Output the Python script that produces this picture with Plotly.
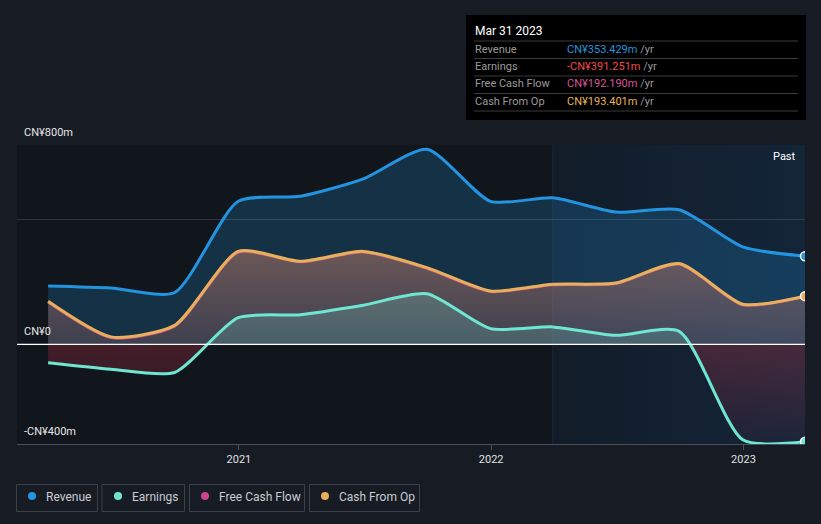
import plotly.graph_objects as go

# ---------------- data ----------------
dates = ["2020-03-31", "2020-06-30", "2020-09-30", "2020-12-31", "2021-03-31",
         "2021-06-30", "2021-09-30", "2021-12-31", "2022-03-31", "2022-06-30",
         "2022-09-30", "2022-12-31", "2023-03-31"]
revenue = [234, 226, 208, 574, 594, 664, 783, 574, 588, 531, 540, 391, 353.429]
earnings = [-74, -100, -113, 107, 119, 157, 203, 63, 70, 36, 52, -383, -391.251]
free_cash_flow = [170, 27, 73, 370, 331, 371, 305, 212, 239, 244, 322, 159, 192.190]
cash_from_op = [173, 30, 76, 373, 333, 373, 308, 214, 241, 246, 324, 161, 193.401]

year_ticks = ["2021-01-01", "2022-01-01", "2023-01-01"]
year_labels = ["2021", "2022", "2023"]
y_label_vals = [800, 0, -400]
y_label_text = ["CN¥800m", "CN¥0", "-CN¥400m"]
grid_vals = [500, 800]

past_start = "2022-03-31"
x_range = ["2020-02-15", "2023-03-31"]
y_range = [-400, 800]

tooltip_title = "Mar 31 2023"
tooltip_rows = [("Revenue", "CN¥353.429m", "#2394df"),
                ("Earnings", "-CN¥391.251m", "#f04a4a"),
                ("Free Cash Flow", "CN¥192.190m", "#d6559a"),
                ("Cash From Op", "CN¥193.401m", "#e8b356")]
legend_items = [("Revenue", "#2394df"), ("Earnings", "#6ee6d2"),
                ("Free Cash Flow", "#c9448a"), ("Cash From Op", "#e8b05c")]

# ---------------- layout helpers (pixel -> paper) ----------------
W, H = 821, 524
L, R, T, B = 17, 805, 145, 444


def px(x):
    return (x - L) / (R - L)


def py(y):
    return (B - y) / (B - T)


FONT = "Roboto, Inter, 'Open Sans', sans-serif"
REV_C = "#2394df"
EARN_C = "#6ee6d2"
FCF_C = "#c9448a"
CFO_C = "#e8b05c"
SMOOTH = 0.65

fig = go.Figure()

# highlighted "Past" region (background tint, drawn first)
fig.add_trace(go.Scatter(
    x=[past_start, x_range[1], x_range[1], past_start, past_start],
    y=[y_range[0], y_range[0], y_range[1], y_range[1], y_range[0]],
    mode="none", fill="toself",
    fillgradient=dict(type="horizontal",
                      colorscale=[[0, "rgba(30,100,170,0.09)"], [1, "rgba(30,100,170,0.2)"]]),
    hoverinfo="skip", showlegend=False))

# Revenue
fig.add_trace(go.Scatter(
    x=dates, y=revenue, mode="lines", name="Revenue",
    line=dict(color=REV_C, width=3, shape="spline", smoothing=SMOOTH),
    fill="tozeroy", fillcolor="rgba(35,148,223,0.22)", showlegend=False))

# Free cash flow (line mostly hidden below cash from op)
fig.add_trace(go.Scatter(
    x=dates, y=free_cash_flow, mode="lines", name="Free Cash Flow",
    line=dict(color=FCF_C, width=3, shape="spline", smoothing=SMOOTH),
    showlegend=False))

# Cash from op
fig.add_trace(go.Scatter(
    x=dates, y=cash_from_op, mode="lines", name="Cash From Op",
    line=dict(color=CFO_C, width=3, shape="spline", smoothing=SMOOTH),
    fill="tozeroy",
    fillgradient=dict(type="vertical", start=0, stop=400,
                      colorscale=[[0, "rgba(207,120,110,0.22)"], [1, "rgba(207,132,106,0.48)"]]),
    showlegend=False))

# Earnings
fig.add_trace(go.Scatter(
    x=dates, y=earnings, mode="lines", name="Earnings",
    line=dict(color=EARN_C, width=3, shape="spline", smoothing=SMOOTH),
    fill="tozeroy",
    fillgradient=dict(type="vertical", start=-400, stop=800,
                      colorscale=[[0, "rgba(190,50,80,0.05)"], [0.333, "rgba(190,50,70,0.3)"],
                                  [0.334, "rgba(110,200,190,0.22)"], [1, "rgba(110,220,200,0.35)"]]),
    showlegend=False))

# end markers
for ser, col in [(revenue, REV_C), (cash_from_op, CFO_C), (earnings, EARN_C)]:
    fig.add_trace(go.Scatter(
        x=[dates[-1]], y=[ser[-1]], mode="markers",
        marker=dict(color=col, size=9, line=dict(color="white", width=1.5)),
        hoverinfo="skip", showlegend=False))

shapes = []
annotations = []

# zero line on top
shapes.append(dict(type="line", xref="paper", yref="y", x0=0, x1=1, y0=0, y1=0,
                   line=dict(color="white", width=1.2), layer="above"))
# divider of past region
shapes.append(dict(type="line", xref="x", yref="paper", x0=past_start, x1=past_start, y0=0, y1=1,
                   line=dict(color="rgba(90,160,210,0.12)", width=1), layer="above"))

# y labels
for v, t in zip(y_label_vals, y_label_text):
    annotations.append(dict(xref="paper", yref="y", x=px(22), y=v, text=t, showarrow=False,
                            xanchor="left", yanchor="middle", yshift=12.5,
                            font=dict(family=FONT, size=11, color="#e6e6e6")))

# Past label
annotations.append(dict(xref="paper", yref="paper", x=px(798), y=py(156), text="Past",
                        showarrow=False, xanchor="right", yanchor="middle",
                        font=dict(family=FONT, size=11, color="#ffffff")))

# tooltip box
shapes.append(dict(type="rect", xref="paper", yref="paper", x0=px(466), x1=px(806),
                   y0=py(120), y1=py(15), fillcolor="#000000", line=dict(width=0), layer="above"))
annotations.append(dict(xref="paper", yref="paper", x=px(473), y=py(31), text=tooltip_title,
                        showarrow=False, xanchor="left", yanchor="middle",
                        font=dict(family=FONT, size=12, color="#ffffff")))
sep_y = [41, 58.5, 76, 93.5, 111]
for yy in sep_y:
    shapes.append(dict(type="line", xref="paper", yref="paper", x0=px(474), x1=px(798),
                       y0=py(yy), y1=py(yy), line=dict(color="#3a3a3a", width=1), layer="above"))
row_y = [49.5, 66.5, 84, 101.5]
for (lab, val, col), yy in zip(tooltip_rows, row_y):
    annotations.append(dict(xref="paper", yref="paper", x=px(473), y=py(yy), text=lab,
                            showarrow=False, xanchor="left", yanchor="middle",
                            font=dict(family=FONT, size=11, color="#9a9a9a")))
    annotations.append(dict(xref="paper", yref="paper", x=px(565), y=py(yy),
                            text=f'<span style="color:{col}">{val}</span> /yr',
                            showarrow=False, xanchor="left", yanchor="middle",
                            font=dict(family=FONT, size=11, color="#9a9a9a")))

# legend boxes
box_x = [(16.5, 97.5), (102, 184.5), (189.5, 304.5), (309.5, 419.5)]
dot_x = [32, 118, 205, 325]
txt_x = [44, 130, 216.5, 337]
for (lab, col), (bx0, bx1), dx, tx in zip(legend_items, box_x, dot_x, txt_x):
    shapes.append(dict(type="rect", xref="paper", yref="paper", x0=px(bx0), x1=px(bx1),
                       y0=py(511.5), y1=py(484.5), line=dict(color="#3b414b", width=1),
                       fillcolor="rgba(0,0,0,0)"))
    shapes.append(dict(type="circle", xref="paper", yref="paper", x0=px(dx - 4), x1=px(dx + 4),
                       y0=py(500), y1=py(492), fillcolor=col, line=dict(width=0)))
    annotations.append(dict(xref="paper", yref="paper", x=px(tx), y=py(497), text=lab,
                            showarrow=False, xanchor="left", yanchor="middle",
                            font=dict(family=FONT, size=12, color="#c9cdd2")))

fig.update_layout(
    width=W, height=H,
    margin=dict(l=L, r=W - R, t=T, b=H - B, pad=0),
    paper_bgcolor="#161b24", plot_bgcolor="#11151c",
    font=dict(family=FONT, color="#dddddd"),
    shapes=shapes, annotations=annotations,
    xaxis=dict(range=x_range, type="date", showgrid=False, zeroline=False,
               tickvals=year_ticks, ticktext=year_labels, ticks="outside", ticklen=5,
               tickcolor="#4a5058", showline=True, linecolor="#4a5058", linewidth=1,
               tickfont=dict(family=FONT, size=11, color="#e0e0e0")),
    yaxis=dict(range=y_range, showgrid=True, gridcolor="rgba(255,255,255,0.14)",
               tickvals=grid_vals, showticklabels=False, zeroline=False, fixedrange=True),
    hovermode=False,
)

fig.write_html("out.html")
